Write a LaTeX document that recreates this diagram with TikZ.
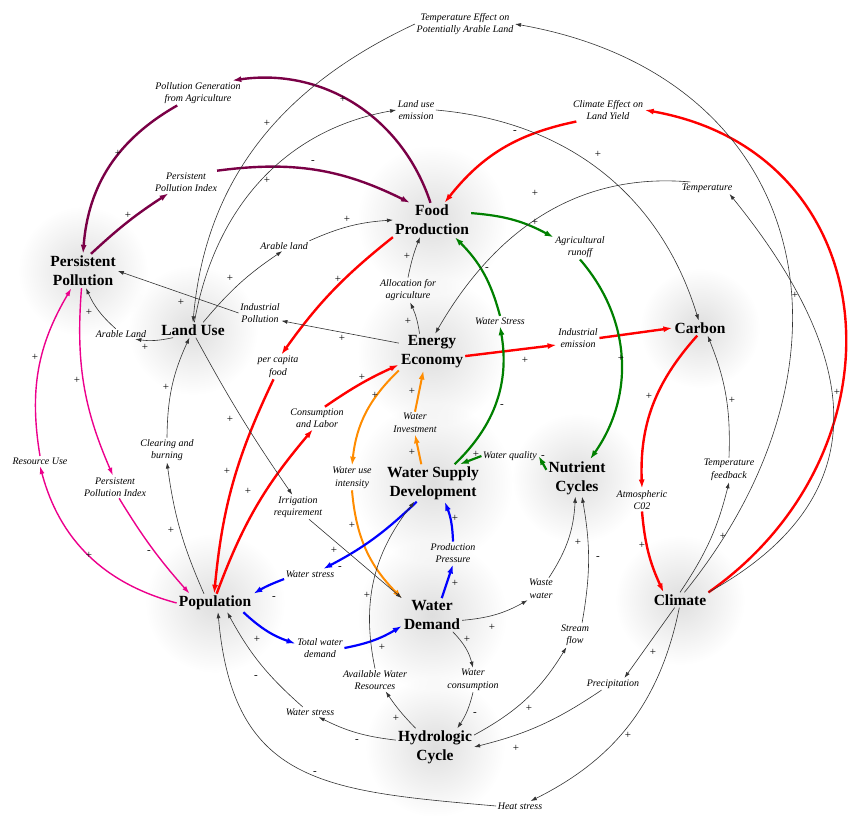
\documentclass[tikz,border=0pt]{standalone}
\usepackage{fontspec}
\setmainfont{Liberation Serif}
\usetikzlibrary{arrows.meta,fadings}
\definecolor{plum}{RGB}{122,0,70}
\definecolor{leaf}{RGB}{0,128,0}
\definecolor{amber}{RGB}{255,140,0}
\tikzfading[name=haze, inner color=transparent!20, outer color=transparent!100]

\begin{document}
\begin{tikzpicture}[x=1pt,y=-1pt,
  Sector/.style={font=\fontsize{15.5}{19}\selectfont\bfseries,align=center,inner sep=2pt},
  Factor/.style={font=\fontsize{10}{12.5}\selectfont\itshape,align=center,inner sep=1.5pt},
  Sign/.style={font=\fontsize{11}{11}\selectfont,inner sep=0pt}]
\useasboundingbox (0,0) rectangle (849,816);

% soft shadows behind the sectors
\foreach \x/\y/\r in {432/220/75,432/352/75,433/483/80,432/615/75,435/747/70,
  215/603/70,193/330/65,83/271/65,700/328/60,680/600/65,577/478/65}
  \fill[black!16,path fading=haze] (\x,\y) circle (\r);

% sectors
\node[Sector] (pp) at (83,271) {Persistent\\Pollution};
\node[Sector] (fp) at (432,220) {Food\\Production};
\node[Sector] (lu) at (193,330) {Land Use};
\node[Sector] (ee) at (432,352) {Energy\\Economy};
\node[Sector] (ca) at (700,328) {Carbon};
\node[Sector] (wsd) at (433,483) {Water Supply\\Development};
\node[Sector] (nc) at (577,478) {Nutrient\\Cycles};
\node[Sector] (po) at (215,603) {Population};
\node[Sector] (wd) at (432,615) {Water\\Demand};
\node[Sector] (cl) at (680,600) {Climate};
\node[Sector] (hc) at (435,747) {Hydrologic\\Cycle};

% variables
\node[Factor] (tepal) at (465,24) {Temperature Effect on\\Potentially Arable Land};
\node[Factor] (pga) at (198,93) {Pollution Generation\\from Agriculture};
\node[Factor] (lue) at (416,110) {Land use\\emission};
\node[Factor] (cely) at (608,110) {Climate Effect on\\Land Yield};
\node[Factor] (ppia) at (186,182) {Persistent\\Pollution Index};
\node[Factor] (temp) at (707,188) {Temperature};
\node[Factor] (ala) at (284,246) {Arable land};
\node[Factor] (ar) at (580,247) {Agricultural\\runoff};
\node[Factor] (afa) at (408,290) {Allocation for\\agriculture};
\node[Factor] (ip) at (260,313) {Industrial\\Pollution};
\node[Factor] (alb) at (121,334) {Arable Land};
\node[Factor] (wsa) at (500,321) {Water Stress};
\node[Factor] (ie) at (578,338) {Industrial\\emission};
\node[Factor] (pcf) at (278,367) {per capita\\food};
\node[Factor] (cal) at (317,418) {Consumption\\and Labor};
\node[Factor] (wi) at (415,423) {Water\\Investment};
\node[Factor] (wq) at (510,456) {Water quality};
\node[Factor] (cb) at (167,450) {Clearing and\\burning};
\node[Factor] (ru) at (40,461) {Resource Use};
\node[Factor] (wui) at (352,478) {Water use\\intensity};
\node[Factor] (ppib) at (115,487) {Persistent\\Pollution Index};
\node[Factor] (ac) at (642,500) {Atmospheric\\C02};
\node[Factor] (tf) at (729,470) {Temperature\\feedback};
\node[Factor] (ir) at (298,507) {Irrigation\\requirement};
\node[Factor] (prp) at (453,553) {Production\\Pressure};
\node[Factor] (wsb) at (310,574) {Water stress};
\node[Factor] (ww) at (541,589) {Waste\\water};
\node[Factor] (sf) at (575,635) {Stream\\flow};
\node[Factor] (twd) at (320,648) {Total water\\demand};
\node[Factor] (awr) at (375,680) {Available Water\\Resources};
\node[Factor] (wc) at (473,680) {Water\\consumption};
\node[Factor] (pr) at (613,684) {Precipitation};
\node[Factor] (wsc) at (310,712) {Water stress};
\node[Factor] (hs) at (520,806) {Heat stress};

\tikzset{
  ThinEdge/.style={draw=black!80,line width=.6pt,-{Latex[length=6pt,width=4pt]}},
  PlumEdge/.style={draw=plum,line width=2.4pt,-{Latex[length=9pt,width=6pt]}},
  RedEdge/.style={draw=red,line width=2.4pt,-{Latex[length=9pt,width=6pt]}},
  GreenEdge/.style={draw=leaf,line width=2.2pt,-{Latex[length=9pt,width=6pt]}},
  OrangeEdge/.style={draw=amber,line width=2pt,-{Latex[length=9pt,width=6pt]}},
  BlueEdge/.style={draw=blue,line width=2.2pt,-{Latex[length=9pt,width=6pt]}},
  PinkEdge/.style={draw=magenta,line width=1.4pt,-{Latex[length=8pt,width=5pt]}}
}
% pollution loop
\draw[PlumEdge] (fp.95) to[bend right=40] (pga.20);
\draw[PlumEdge] (pga.211) to[bend right=28] (pp.north);
\draw[PlumEdge] (pp.65) to[bend left=5] (ppia.213);
\draw[PlumEdge] (ppia.20) to[bend left=17] (fp.142);
% food, population, carbon
\draw[RedEdge] (cely.200) to[bend right=20] (fp.54);
\draw[RedEdge] (cl.north east) to[out=35,in=-10,looseness=1.3] (cely.east);
\draw[RedEdge] (fp.south west) to[bend right=8] (pcf.75);
\draw[RedEdge] (pcf.250) to[bend right=10] (po.95);
\draw[RedEdge] (po.80) to[bend left=10] (cal.250);
\draw[RedEdge] (cal.55) to[bend left=5] (ee.201);
\draw[RedEdge] (ee.-7) to (ie.198);
\draw[RedEdge] (ie.east) to (ca.west);
\draw[RedEdge] (ca.250) to[bend right=22] (ac.north);
\draw[RedEdge] (ac.south) to[bend right=10] (cl.155);
% nutrients and water quality
\draw[GreenEdge] (fp.10) to[bend left=12] (ar.160);
\draw[GreenEdge] (ar.south) to[bend left=38] (nc.55);
\draw[GreenEdge] (wsd.41) to[bend right=28] (wsa.south);
\draw[GreenEdge] (wsa.north) to[bend right=15] (fp.-37);
\draw[GreenEdge] (nc.165) to (wq.east);
\draw[GreenEdge] (wq.west) to (wsd.35);
% energy and water
\draw[OrangeEdge] (ee.south west) to[bend right=20] (wui.north);
\draw[OrangeEdge] (wui.south) to[bend right=20] (wd.north west);
\draw[OrangeEdge] (wsd.122) to (wi.south);
\draw[OrangeEdge] (wi.north) to (ee.245);
% water demand loop
\draw[BlueEdge] (wsd.229) to[bend left=8] (wsb.21);
\draw[BlueEdge] (wsb.south west) to[bend right=5] (po.north east);
\draw[BlueEdge] (po.-18) to[bend right=12] (twd.170);
\draw[BlueEdge] (twd.east) to[bend right=10] (wd.200);
\draw[BlueEdge] (wd.60) to (prp.south);
\draw[BlueEdge] (prp.north) to[bend right=10] (wsd.-58);
% resources
\draw[PinkEdge] (pp.265) to[bend right=14] (ppib.100);
\draw[PinkEdge] (ppib.-70) to[bend right=5] (po.160);
\draw[PinkEdge] (po.west) to[bend left=30] (ru.south);
\draw[PinkEdge] (ru.north) to[bend left=20] (pp.236);
% thin links
\draw[ThinEdge] (cl.60) to[out=51,in=-10,looseness=1.3] (tepal.east);
\draw[ThinEdge] (cl.north east) to[out=29,in=-51,looseness=1.3] (temp.-15);
\draw[ThinEdge] (tepal.west) to[out=205,in=85] (lu.north);
\draw[ThinEdge] (lu.80) to[out=80,in=190] (lue.west);
\draw[ThinEdge] (lue.east) to[out=-5,in=107] (ca.100);
\draw[ThinEdge] (temp.160) to[out=175,in=60] (ee.80);
\draw[ThinEdge] (cl.north) to[bend right=10] (tf.south);
\draw[ThinEdge] (tf.north) to[bend right=12] (ca.-45);
\draw[ThinEdge] (lu.37) to[bend left=8] (ala.-110);
\draw[ThinEdge] (ala.north east) to[bend left=10] (fp.west);
\draw[ThinEdge] (ee.124) to[bend right=8] (afa.-80);
\draw[ThinEdge] (afa.north) to[bend left=5] (fp.235);
\draw[ThinEdge] (ee.165) to (ip.-20);
\draw[ThinEdge] (ip.west) to (pp.east);
\draw[ThinEdge] (lu.201) to[bend left=10] (alb.-20);
\draw[ThinEdge] (alb.135) to[bend left=12] (pp.-80);
\draw[ThinEdge] (po.140) to[bend left=8] (cb.south);
\draw[ThinEdge] (cb.north) to[bend left=12] (lu.245);
\draw[ThinEdge] (lu.-70) to[bend right=3] (ir.115);
\draw[ThinEdge] (ir.-48) to (wd.north west);
\draw[ThinEdge] (awr.north) to[bend left=25] (wsd.225);
\draw[ThinEdge] (hc.136) to[bend left=5] (awr.-47);
\draw[ThinEdge] (wd.-39) to[bend left=15] (wc.north);
\draw[ThinEdge] (wc.south) to[bend left=10] (hc.40);
\draw[ThinEdge] (wd.-10) to[bend right=12] (ww.220);
\draw[ThinEdge] (ww.55) to[bend right=15] (nc.-95);
\draw[ThinEdge] (sf.60) to[bend right=10] (nc.-75);
\draw[ThinEdge] (hc.17) to[bend right=15] (sf.235);
\draw[ThinEdge] (pr.208) to[bend left=10] (hc.east);
\draw[ThinEdge] (cl.235) to (pr.28);
\draw[ThinEdge] (cl.265) to[bend left=26] (hs.25);
\draw[ThinEdge] (hc.170) to[bend left=10] (wsc.-30);
\draw[ThinEdge] (wsc.145) to[bend left=10] (po.-37);
\draw[ThinEdge] (hs.west) to[out=175,in=-85,looseness=1.3] (po.-72);

% polarities
\foreach \x/\y/\sg [count=\i] in {343/99/+,118/153/+,128/215/+,313/162/-,515/132/-,
  338/279/+,227/471/+,248/491/+,362/377/+,525/360/+,649/396/+,642/545/+,
  535/222/+,621/358/+,502/406/-,487/269/-,543/457/-,476/454/+,375/395/+,
  352/525/+,412/452/+,412/391/+,340/568/-,274/598/-,257/639/+,382/647/+,
  455/583/+,455/518/+,77/380/+,149/552/-,89/555/+,35/357/+,795/295/+,
  837/392/+,267/123/+,267/180/+,598/154/+,535/193/+,723/536/+,732/400/+,
  230/278/+,347/219/+,408/321/+,407/256/+,342/338/+,181/302/+,145/347/+,
  89/312/+,171/530/+,166/387/+,230/419/+,334/550/+,367/595/+,396/718/+,
  467/639/+,475/714/-,492/627/+,578/542/+,598/558/-,529/708/+,516/748/+,
  653/652/+,628/735/+,357/741/-,256/677/-,315/773/-}
  \node[Sign] (sign\i) at (\x,\y) {\sg};
\end{tikzpicture}
\end{document}
